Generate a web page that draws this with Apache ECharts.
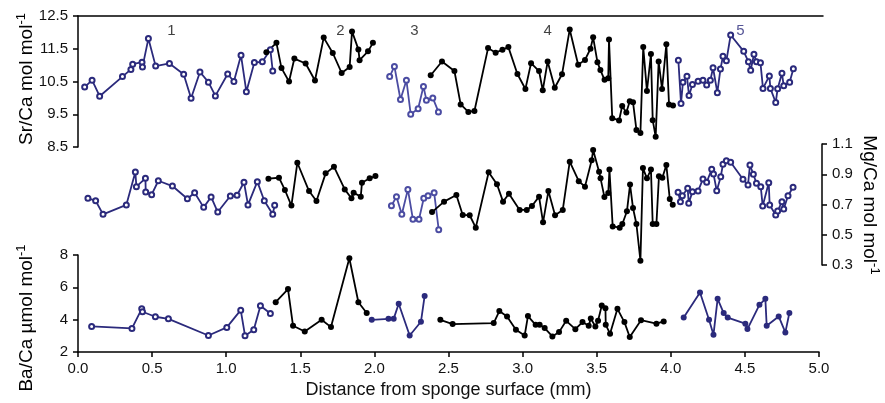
<!DOCTYPE html>
<html>
<head>
<meta charset="utf-8">
<script src="https://cdn.jsdelivr.net/npm/echarts@6/dist/echarts.min.js"></script>
<style>html,body{margin:0;padding:0;background:#fff}#c{width:885px;height:403px}</style>
</head>
<body>
<div id="c"></div>
<script>
// ---- Sr/Ca (mol/mol) ----
const sr1 = [[0.045,10.33],[0.095,10.54],[0.146,10.05],[0.30,10.65],[0.357,10.87],[0.369,11.03],[0.432,11.09],[0.435,10.94],[0.475,11.81],[0.524,10.97],[0.617,11.05],[0.713,10.72],[0.763,9.99],[0.823,10.79],[0.88,10.48],[0.927,10.06],[1.01,10.73],[1.052,10.50],[1.10,11.30],[1.136,10.19],[1.19,11.08],[1.244,11.10],[1.298,11.47],[1.314,10.82]];
const sr2 = [[1.271,11.39],[1.339,11.68],[1.373,10.91],[1.424,10.50],[1.46,11.20],[1.536,11.05],[1.599,10.53],[1.658,11.84],[1.719,11.37],[1.779,10.76],[1.833,10.94],[1.849,12.03],[1.892,11.48],[1.90,11.15],[1.957,11.42],[1.99,11.68]];
const sr3 = [[2.103,10.65],[2.135,10.96],[2.176,9.95],[2.216,10.54],[2.245,9.50],[2.295,9.67],[2.331,10.35],[2.351,9.93],[2.394,10.00],[2.432,9.57]];
const sr4 = [[2.38,10.69],[2.456,11.11],[2.54,10.82],[2.582,9.80],[2.634,9.57],[2.675,9.60],[2.767,11.52],[2.818,11.38],[2.864,11.47],[2.904,11.55],[2.965,10.73],[3.019,10.27],[3.057,11.06],[3.111,10.82],[3.136,10.23],[3.169,11.11],[3.217,10.31],[3.266,10.72],[3.318,12.09],[3.375,11.01],[3.421,11.16],[3.458,11.50],[3.476,11.85],[3.505,11.09],[3.525,10.85],[3.553,10.55],[3.578,10.60],[3.583,11.78],[3.605,9.38],[3.651,9.31],[3.672,9.75],[3.70,9.55],[3.723,9.90],[3.745,9.87],[3.768,9.02],[3.795,8.93],[3.814,11.55],[3.839,10.21],[3.866,11.34],[3.878,9.32],[3.898,8.81],[3.918,11.11],[3.941,10.27],[3.97,11.64],[3.988,9.80],[4.015,9.77]];
const sr5 = [[4.051,11.15],[4.069,9.83],[4.082,10.48],[4.109,10.66],[4.123,10.07],[4.146,10.41],[4.184,10.51],[4.217,10.54],[4.242,10.39],[4.267,10.54],[4.285,10.92],[4.314,10.16],[4.335,10.88],[4.352,11.27],[4.375,11.13],[4.404,11.92],[4.492,11.42],[4.524,11.10],[4.539,10.84],[4.561,11.33],[4.578,11.10],[4.605,11.07],[4.622,10.29],[4.665,10.67],[4.672,10.29],[4.708,9.86],[4.721,10.28],[4.75,10.75],[4.762,10.37],[4.802,10.48],[4.827,10.89]];
// ---- Mg/Ca (mol/mol) ----
const mg1 = [[0.067,0.741],[0.119,0.725],[0.169,0.635],[0.326,0.697],[0.387,0.915],[0.394,0.818],[0.455,0.873],[0.457,0.783],[0.497,0.765],[0.542,0.857],[0.637,0.822],[0.738,0.738],[0.787,0.778],[0.848,0.681],[0.898,0.750],[0.943,0.650],[1.028,0.756],[1.073,0.761],[1.12,0.847],[1.147,0.697],[1.21,0.851],[1.257,0.725],[1.314,0.635],[1.327,0.695]];
const mg2 = [[1.285,0.871],[1.356,0.877],[1.396,0.796],[1.44,0.693],[1.48,0.976],[1.559,0.789],[1.609,0.723],[1.671,0.906],[1.727,0.950],[1.80,0.800],[1.845,0.741],[1.86,0.778],[1.908,0.752],[1.916,0.844],[1.968,0.873],[2.007,0.888]];
const mg3 = [[2.115,0.692],[2.149,0.752],[2.185,0.635],[2.226,0.800],[2.26,0.602],[2.301,0.602],[2.333,0.741],[2.362,0.758],[2.403,0.778],[2.434,0.533]];
const mg4 = [[2.389,0.650],[2.47,0.719],[2.553,0.763],[2.596,0.631],[2.643,0.629],[2.684,0.547],[2.771,0.913],[2.827,0.834],[2.868,0.719],[2.908,0.771],[2.98,0.664],[3.028,0.664],[3.063,0.690],[3.111,0.752],[3.138,0.582],[3.174,0.789],[3.219,0.629],[3.271,0.664],[3.318,0.983],[3.379,0.854],[3.421,0.818],[3.466,0.992],[3.476,1.060],[3.516,0.917],[3.526,0.873],[3.552,0.750],[3.578,0.776],[3.586,0.931],[3.608,0.555],[3.655,0.547],[3.673,0.571],[3.704,0.655],[3.725,0.832],[3.745,0.677],[3.768,0.571],[3.795,0.328],[3.812,0.941],[3.839,0.873],[3.866,0.931],[3.878,0.571],[3.903,0.571],[3.92,0.886],[3.943,0.877],[3.97,0.961],[3.993,0.736],[4.013,0.699]];
const mg5 = [[4.049,0.781],[4.065,0.719],[4.078,0.758],[4.114,0.807],[4.121,0.708],[4.146,0.785],[4.184,0.789],[4.217,0.869],[4.242,0.847],[4.276,0.933],[4.288,0.902],[4.31,0.791],[4.337,0.884],[4.352,0.966],[4.375,0.990],[4.404,0.979],[4.487,0.867],[4.521,0.829],[4.534,0.961],[4.557,0.900],[4.578,0.840],[4.607,0.818],[4.62,0.690],[4.661,0.844],[4.667,0.697],[4.708,0.631],[4.721,0.657],[4.75,0.719],[4.762,0.670],[4.791,0.758],[4.825,0.814]];
// ---- Ba/Ca (umol/mol) ----
const ba1 = [[0.092,3.58],[0.364,3.46],[0.43,4.67],[0.435,4.49],[0.522,4.18],[0.61,4.05],[0.88,3.02],[1.004,3.52],[1.098,4.59],[1.127,3.01],[1.186,3.38],[1.231,4.86],[1.298,4.38]];
const ba2 = [[1.334,5.08],[1.417,5.89],[1.451,3.62],[1.53,3.27],[1.644,3.99],[1.707,3.54],[1.831,7.80],[1.892,5.08],[1.948,4.41]];
const ba3 = [[1.982,3.99],[2.095,4.05],[2.13,4.05],[2.164,4.98],[2.238,3.02],[2.314,3.87],[2.339,5.47]];
const ba4 = [[2.445,3.99],[2.528,3.73],[2.805,3.79],[2.843,4.53],[2.895,4.20],[2.955,3.38],[3.014,3.02],[3.036,4.22],[3.088,3.68],[3.115,3.68],[3.149,3.48],[3.201,2.96],[3.246,3.23],[3.294,3.93],[3.356,3.41],[3.404,3.85],[3.446,3.62],[3.46,4.07],[3.491,3.58],[3.509,3.93],[3.534,4.87],[3.559,4.71],[3.561,3.68],[3.59,3.13],[3.64,4.67],[3.687,3.85],[3.723,2.93],[3.799,3.97],[3.903,3.75],[3.952,3.89]];
const ba5 = [[4.087,4.13],[4.197,5.68],[4.258,3.99],[4.288,3.07],[4.316,5.29],[4.357,4.41],[4.384,4.13],[4.503,3.75],[4.517,3.42],[4.598,4.92],[4.638,5.29],[4.647,3.62],[4.728,4.20],[4.773,3.21],[4.80,4.41]];
const segLabels = ['1','2','3','4','5'];
const segLabelX = [0.63, 1.77, 2.27, 3.17, 4.47];

const NAVY = '#2b2a7c', LIGHT = '#4b4ca2', BLACK = '#000';
const FONT = 'Liberation Sans, Arial, Helvetica, sans-serif';

function mk(data, gi, color, hollow) {
  return {
    type: 'line', xAxisIndex: gi, yAxisIndex: gi, data: data,
    symbol: hollow ? 'emptyCircle' : 'circle',
    symbolSize: hollow ? 5 : 6,
    lineStyle: { color: color, width: 1.8 },
    itemStyle: { color: color, borderColor: color, borderWidth: hollow ? 1.4 : 0 },
    animation: false, silent: true, z: 3
  };
}
const lbl = { fontFamily: FONT, fontSize: 15, color: '#111' };
function yAx(gi, min, max, interval, pos, dec) {
  return {
    type: 'value', gridIndex: gi, min: min, max: max, interval: interval, position: pos,
    offset: pos === 'right' ? 3 : 0,
    axisLine: { show: true, onZero: false, lineStyle: { color: '#000', width: 1.5 } },
    axisTick: { show: true, inside: false, length: 5, lineStyle: { color: '#000', width: 1.5 } },
    axisLabel: Object.assign({ margin: 10, formatter: v => v.toFixed(dec) }, lbl),
    splitLine: { show: false }
  };
}
const rich = {
  a: { fontFamily: FONT, fontSize: 19, lineHeight: 24, color: '#111' },
  b: { fontFamily: FONT, fontSize: 13, lineHeight: 13, verticalAlign: 'top', color: '#111' }
};
function vtitle(text, x, y, rot) {
  return { type: 'text', x: x, y: y, rotation: rot, silent: true,
    style: { text: '{a|' + text + '}{b|-1}', rich: rich, align: 'center', verticalAlign: 'middle' } };
}

const chart = echarts.init(document.getElementById('c'), null, { renderer: 'canvas' });
const grids = [
  { left: 78, right: 62, top: 16, height: 131 },
  { left: 78, right: 66, top: 144, height: 121 },
  { left: 78, right: 66, top: 255, height: 97 }
];
const xAxes = [
  { type: 'value', gridIndex: 0, min: 0, max: 5.027, position: 'top',
    axisLine: { show: true, onZero: false, lineStyle: { color: '#000', width: 1.5 } }, axisTick: { show: false }, axisLabel: { show: false }, splitLine: { show: false } },
  { type: 'value', gridIndex: 1, min: 0, max: 5, show: false, splitLine: { show: false } },
  { type: 'value', gridIndex: 2, min: 0, max: 5, interval: 0.5, position: 'bottom',
    name: 'Distance from sponge surface (mm)', nameLocation: 'middle', nameGap: 29,
    nameTextStyle: { fontFamily: FONT, fontSize: 18, color: '#111' },
    axisLine: { show: true, onZero: false, lineStyle: { color: '#000', width: 1.5 } },
    axisTick: { show: true, inside: false, length: 5, lineStyle: { color: '#000', width: 1.5 } },
    axisLabel: Object.assign({ margin: 9, formatter: v => v.toFixed(1) }, lbl),
    splitLine: { show: false } }
];
const yAxes = [
  yAx(0, 8.5, 12.5, 1, 'left', 1),
  yAx(1, 0.3, 1.1, 0.2, 'right', 1),
  yAx(2, 2, 8, 2, 'left', 0)
];
const series = [
  mk(sr1, 0, NAVY, true), mk(sr2, 0, BLACK, false), mk(sr3, 0, LIGHT, true), mk(sr4, 0, BLACK, false), mk(sr5, 0, NAVY, true),
  mk(mg1, 1, NAVY, true), mk(mg2, 1, BLACK, false), mk(mg3, 1, LIGHT, true), mk(mg4, 1, BLACK, false), mk(mg5, 1, NAVY, true),
  mk(ba1, 2, NAVY, true), mk(ba2, 2, BLACK, false), mk(ba3, 2, NAVY, false), mk(ba4, 2, BLACK, false), mk(ba5, 2, NAVY, false)
];
// segment labels placed through the data scale
series.push({
  type: 'scatter', xAxisIndex: 0, yAxisIndex: 0, symbolSize: 0, silent: true, animation: false,
  data: segLabels.map((s, i) => ({ value: [segLabelX[i], 12.05], name: s,
    label: i === 4 ? { color: NAVY } : undefined })),
  label: { show: true, position: 'inside', formatter: p => p.name, fontFamily: FONT, fontSize: 15,
    color: '#111' }
});
chart.setOption({
  animation: false,
  grid: grids, xAxis: xAxes, yAxis: yAxes, series: series,
  graphic: [
    vtitle('Sr/Ca mol mol', 27, 79, Math.PI / 2),
    vtitle('Ba/Ca \u00b5mol mol', 27, 318, Math.PI / 2),
    vtitle('Mg/Ca mol mol', 869, 205, -Math.PI / 2)
  ]
});
</script>
</body>
</html>
